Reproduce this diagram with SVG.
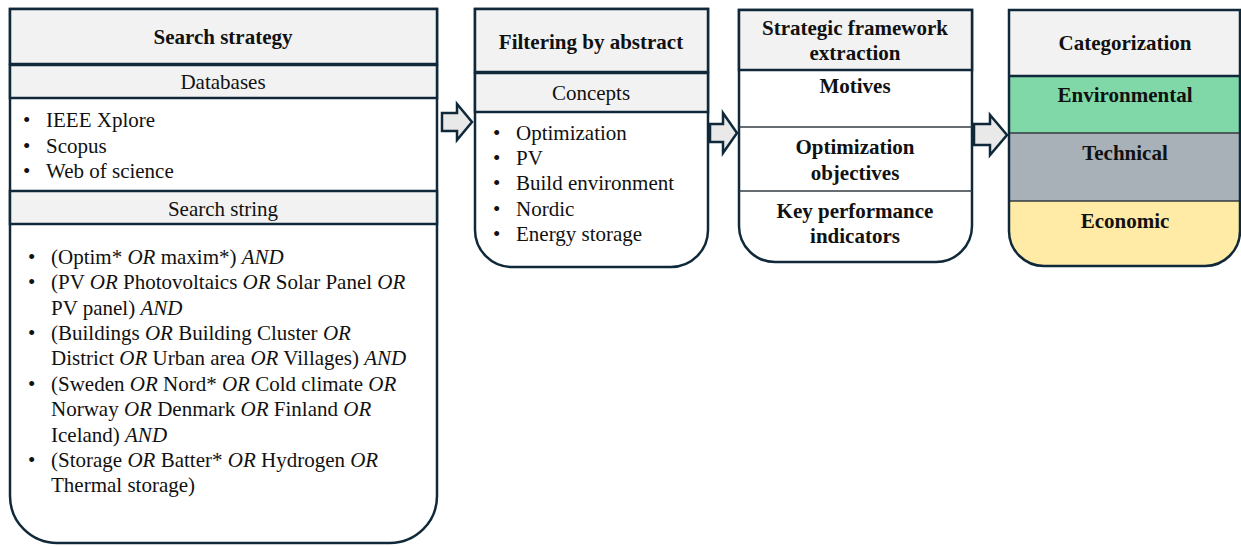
<svg xmlns="http://www.w3.org/2000/svg" width="1241" height="546" viewBox="0 0 1241 546">
  <defs>
    <style>
      .frame { fill: #ffffff; stroke: #10293a; stroke-width: 2.5; }
      .head { fill: #f2f2f2; stroke: #10293a; stroke-width: 2.5; }
      .div { stroke: #10293a; stroke-width: 2.5; fill: none; }
      .thin { stroke: #333b40; stroke-width: 1.6; fill: none; }
      .arrow { fill: #e9e9e9; stroke: #10293a; stroke-width: 2.5; stroke-linejoin: miter; }
      text { font-family: 'Liberation Serif', serif; font-size: 21px; fill: #111111; }
      .b { font-weight: bold; }
      .c { text-anchor: middle; }
      .i { font-style: italic; }
    </style>
    <clipPath id="catClip">
      <path d="M1009,10 H1240 V231 A35,35 0 0 1 1205,266 H1044 A35,35 0 0 1 1009,231 Z"/>
    </clipPath>
  </defs>

  <!-- Search strategy -->
  <g id="search-strategy">
    <path class="frame" d="M10,9 H437 V496 A47,47 0 0 1 390,543 H57 A47,47 0 0 1 10,496 Z"/>
    <rect class="head" x="10" y="9" width="427" height="55"/>
    <rect class="head" x="10" y="65" width="427" height="33"/>
    <rect class="head" x="10" y="191" width="427" height="33"/>
    <text class="b c" x="223" y="44">Search strategy</text>
    <text class="c" x="223" y="89">Databases</text>
    <text x="23" y="127">•</text><text x="46" y="127">IEEE Xplore</text>
    <text x="23" y="153">•</text><text x="46" y="153">Scopus</text>
    <text x="23" y="178">•</text><text x="46" y="178">Web of science</text>
    <text class="c" x="223" y="216">Search string</text>
    <text x="28" y="264">•</text>
    <text x="51" y="264">(Optim* <tspan class="i">OR</tspan> maxim*) <tspan class="i">AND</tspan></text>
    <text x="28" y="289">•</text>
    <text x="51" y="289">(PV <tspan class="i">OR</tspan> Photovoltaics <tspan class="i">OR</tspan> Solar Panel <tspan class="i">OR</tspan></text>
    <text x="51" y="315">PV panel) <tspan class="i">AND</tspan></text>
    <text x="28" y="340">•</text>
    <text x="51" y="340">(Buildings <tspan class="i">OR</tspan> Building Cluster <tspan class="i">OR</tspan></text>
    <text x="51" y="365">District <tspan class="i">OR</tspan> Urban area <tspan class="i">OR</tspan> Villages) <tspan class="i">AND</tspan></text>
    <text x="28" y="391">•</text>
    <text x="51" y="391">(Sweden <tspan class="i">OR</tspan> Nord* <tspan class="i">OR</tspan> Cold climate <tspan class="i">OR</tspan></text>
    <text x="51" y="416">Norway <tspan class="i">OR</tspan> Denmark <tspan class="i">OR</tspan> Finland <tspan class="i">OR</tspan></text>
    <text x="51" y="442">Iceland) <tspan class="i">AND</tspan></text>
    <text x="28" y="467">•</text>
    <text x="51" y="467">(Storage <tspan class="i">OR</tspan> Batter* <tspan class="i">OR</tspan> Hydrogen <tspan class="i">OR</tspan></text>
    <text x="51" y="492">Thermal storage)</text>
  </g>

  <!-- Filtering by abstract -->
  <g id="filtering">
    <path class="frame" d="M475,9 H708 V230 A37,37 0 0 1 671,267 H512 A37,37 0 0 1 475,230 Z"/>
    <rect class="head" x="475" y="9" width="233" height="63"/>
    <rect class="head" x="475" y="73" width="233" height="39"/>
    <text class="b c" x="591" y="49">Filtering by abstract</text>
    <text class="c" x="591" y="100">Concepts</text>
    <text x="493" y="140">•</text><text x="516" y="140">Optimization</text>
    <text x="493" y="165">•</text><text x="516" y="165">PV</text>
    <text x="493" y="190">•</text><text x="516" y="190">Build environment</text>
    <text x="493" y="216">•</text><text x="516" y="216">Nordic</text>
    <text x="493" y="241">•</text><text x="516" y="241">Energy storage</text>
  </g>

  <!-- Strategic framework extraction -->
  <g id="framework">
    <path class="frame" d="M739,10 H972 V226 A36,36 0 0 1 936,262 H775 A36,36 0 0 1 739,226 Z"/>
    <rect class="head" x="739" y="10" width="233" height="60"/>
    <line class="thin" x1="739" y1="127" x2="972" y2="127"/>
    <line class="thin" x1="739" y1="191" x2="972" y2="191"/>
    <text class="b c" x="855" y="35">Strategic framework</text>
    <text class="b c" x="855" y="60">extraction</text>
    <text class="b c" x="855" y="93">Motives</text>
    <text class="b c" x="855" y="154">Optimization</text>
    <text class="b c" x="855" y="180">objectives</text>
    <text class="b c" x="855" y="218">Key performance</text>
    <text class="b c" x="855" y="243">indicators</text>
  </g>

  <!-- Categorization -->
  <g id="categorization">
    <g clip-path="url(#catClip)">
      <rect x="1009" y="10" width="231" height="66" fill="#f2f2f2"/>
      <rect x="1009" y="76" width="231" height="57" fill="#80d8a8"/>
      <rect x="1009" y="133" width="231" height="68" fill="#a8b0b8"/>
      <rect x="1009" y="201" width="231" height="65" fill="#ffeaa6"/>
    </g>
    <line class="div" x1="1009" y1="76" x2="1240" y2="76"/>
    <line class="thin" x1="1009" y1="133" x2="1240" y2="133"/>
    <line class="thin" x1="1009" y1="201" x2="1240" y2="201"/>
    <path d="M1009,10 H1240 V231 A35,35 0 0 1 1205,266 H1044 A35,35 0 0 1 1009,231 Z" fill="none" stroke="#10293a" stroke-width="2.5"/>
    <text class="b c" x="1125" y="50">Categorization</text>
    <text class="b c" x="1125" y="102">Environmental</text>
    <text class="b c" x="1125" y="160">Technical</text>
    <text class="b c" x="1125" y="228">Economic</text>
  </g>

  <!-- Block arrows between stages -->
  <g id="connectors">
    <polygon class="arrow" points="442,113 457,113 457,104 472,122 457,140 457,131 442,131"/>
    <polygon class="arrow" points="710,124 723,124 723,113 737,133 723,153 723,142 710,142"/>
    <polygon class="arrow" points="974,124 990,124 990,115 1007,135 990,155 990,145 974,145"/>
  </g>
</svg>
